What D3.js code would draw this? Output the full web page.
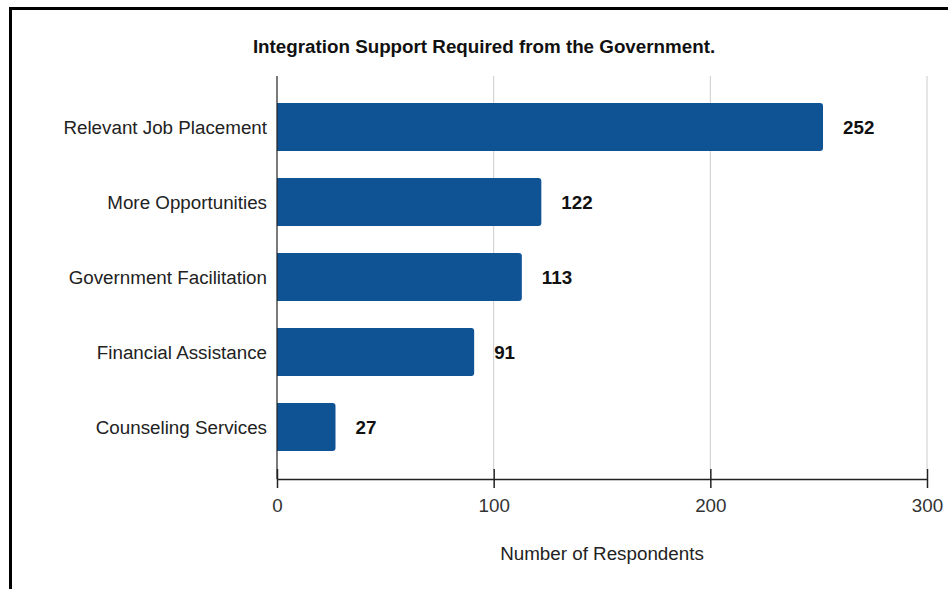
<!DOCTYPE html>
<html>
<head>
<meta charset="utf-8">
<script src="https://cdn.jsdelivr.net/npm/d3@7"></script>
<style>
  html, body { margin: 0; padding: 0; background: #fff; }
  svg { display: block; }
</style>
</head>
<body>
<svg id="chart" width="948" height="589"></svg>
<script>
// Survey responses: integration support wanted from the government
const categories = [
  "Relevant Job Placement",
  "More Opportunities",
  "Government Facilitation",
  "Financial Assistance",
  "Counseling Services"
];
const respondents = [252, 122, 113, 91, 27];
const xTicks = [0, 100, 200, 300];
const chartTitle = "Integration Support Required from the Government.";
const xAxisTitle = "Number of Respondents";

const W = 948, H = 589;
const margin = { left: 277, right: 21, top: 89.5, bottom: 124.5 };
const font = "'Liberation Sans', Arial, sans-serif";
const fs = 18.8;
const barColor = "#0f5395";

const svg = d3.select("#chart");

// outer frame (left and top edges visible)
svg.append("path")
  .attr("d", `M10.5,${H} V8.5 H${W}`)
  .attr("fill", "none")
  .attr("stroke", "#000")
  .attr("stroke-width", 3);

const x = d3.scaleLinear()
  .domain([0, 300])
  .range([margin.left, W - margin.right]);

const y = d3.scaleBand()
  .domain(categories)
  .range([margin.top, H - margin.bottom])
  .paddingInner(0.36)
  .paddingOuter(0.18);

const axisY = 479;

// vertical gridlines
svg.append("g")
  .selectAll("line")
  .data(xTicks.filter(d => d > 0))
  .join("line")
  .attr("x1", d => x(d)).attr("x2", d => x(d))
  .attr("y1", 76).attr("y2", 470)
  .attr("stroke", "#cccccc")
  .attr("stroke-width", 1);

// bars: square on the baseline, rounded at the value end
const r = 3;
svg.append("g")
  .selectAll("path")
  .data(categories)
  .join("path")
  .attr("fill", barColor)
  .attr("d", (c, i) => {
    const x0 = x(0), x1 = x(respondents[i]);
    const y0 = y(c), y1 = y(c) + y.bandwidth();
    return `M${x0},${y0} H${x1 - r} Q${x1},${y0} ${x1},${y0 + r} V${y1 - r} Q${x1},${y1} ${x1 - r},${y1} H${x0} Z`;
  });

// value labels
svg.append("g")
  .selectAll("text")
  .data(categories)
  .join("text")
  .attr("x", (c, i) => x(respondents[i]) + 20)
  .attr("y", c => y(c) + y.bandwidth() / 2)
  .attr("dy", "0.35em")
  .attr("font-family", font)
  .attr("font-weight", "bold")
  .attr("font-size", fs)
  .attr("fill", "#111")
  .text((c, i) => respondents[i]);

// category labels
svg.append("g")
  .selectAll("text")
  .data(categories)
  .join("text")
  .attr("x", margin.left - 10)
  .attr("y", c => y(c) + y.bandwidth() / 2)
  .attr("dy", "0.35em")
  .attr("text-anchor", "end")
  .attr("font-family", font)
  .attr("font-size", fs)
  .attr("fill", "#222")
  .text(c => c);

// y axis line
svg.append("line")
  .attr("x1", x(0)).attr("x2", x(0))
  .attr("y1", 76).attr("y2", axisY)
  .attr("stroke", "#222").attr("stroke-width", 1.2);

// x axis with ticks crossing the line
const xAxis = d3.axisBottom(x)
  .tickValues(xTicks)
  .tickSizeInner(9)
  .tickSizeOuter(0)
  .tickPadding(11);
const gx = svg.append("g")
  .attr("transform", `translate(0,${axisY})`)
  .call(xAxis);
gx.select(".domain").attr("stroke", "#222").attr("stroke-width", 1.5);
gx.selectAll(".tick line")
  .attr("y1", -10).attr("y2", 9)
  .attr("stroke", "#222").attr("stroke-width", 1.5);
gx.selectAll(".tick text")
  .attr("font-family", font)
  .attr("font-size", fs)
  .attr("fill", "#333");

// axis title
svg.append("text")
  .attr("x", (x(0) + x(300)) / 2)
  .attr("y", 560)
  .attr("text-anchor", "middle")
  .attr("font-family", font)
  .attr("font-size", fs)
  .attr("fill", "#222")
  .text(xAxisTitle);

// chart title
svg.append("text")
  .attr("x", 484)
  .attr("y", 53)
  .attr("text-anchor", "middle")
  .attr("font-family", font)
  .attr("font-weight", "bold")
  .attr("font-size", fs)
  .attr("fill", "#111")
  .text(chartTitle);
</script>
</body>
</html>
